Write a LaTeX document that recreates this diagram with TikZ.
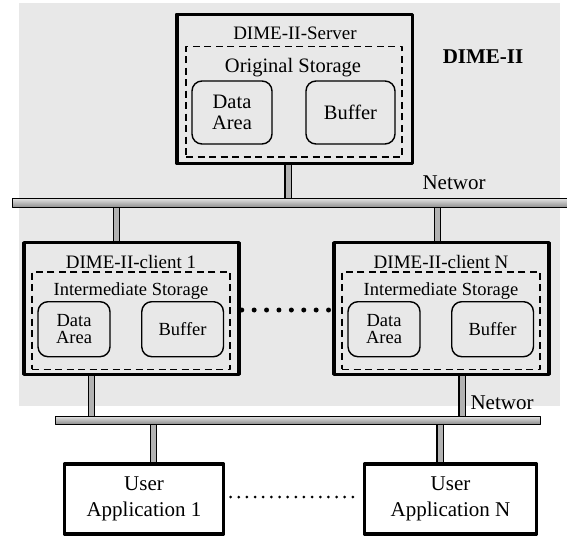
\documentclass[tikz,border=0pt]{standalone}
\usepackage{fontspec}
\setmainfont{Liberation Serif}
\usetikzlibrary{positioning}
\newcommand{\fsz}[1]{\fontsize{#1}{#1}\selectfont}
\begin{document}
\begin{tikzpicture}[x=1pt,y=-1pt,line join=round,
		hostbox/.style={draw,line width=3.5pt,fill=black!9,inner sep=0pt},
		appbox/.style={draw,line width=3.2pt,fill=white,inner sep=0pt,align=center,font=\fsz{21}},
		storebox/.style={draw,dashed,line width=1.6pt,dash pattern=on 7pt off 4.5pt,inner sep=0pt},
		areabox/.style={draw,line width=1.4pt,rounded corners=10pt,inner sep=0pt,align=center},
		netbar/.style={draw,line width=1.3pt,inner sep=0pt,top color=black!12,bottom color=black!45,shading angle=0},
		stub/.style={line width=1.2pt,double=black!30,double distance=5pt}]
	\useasboundingbox (0,0) rectangle (567,537);
	% shared region of the system
	\fill[black!9] (19,2.7) rectangle (560,406);
	% the two network lines
	\node[netbar,minimum width=556pt,minimum height=9pt] (netA) at (290.5,203) {};
	\node[netbar,minimum width=485pt,minimum height=8pt] (netB) at (298,420.3) {};
	\node[font=\fsz{21}] (netAlbl) at (454,183) {Networ};
	\node[font=\fsz{21}] (netBlbl) at (502,403) {Networ};
	\node[font=\bfseries\fsz{21}] (dime) at (483,57) {DIME-II};
	% server
	\node[hostbox,minimum width=235.5pt,minimum height=149pt] (srv) at (294.5,88.9) {};
	\node[font=\fsz{19}] (srvlbl) at (295,33) {DIME-II-Server};
	\node[storebox,minimum width=216pt,minimum height=110.6pt] (srvst) at (294,102) {};
	\node[font=\fsz{20.5}] (srvstlbl) at (293,68) {Original Storage};
	\node[areabox,minimum width=80pt,minimum height=63pt,font=\fsz{20.5}] (srvdata) at (232,112.5) {Data\\[1pt]Area};
	\node[areabox,minimum width=89pt,minimum height=63pt,font=\fsz{20.5}] (srvbuf) at (350.5,112.5) {Buffer};
	% clients
	\foreach \n/\dx in {1/0,N/310}{
		\begin{scope}[xshift=\dx pt]
			\node[hostbox,minimum width=215pt,minimum height=131.5pt] (c\n) at (131.5,308.5) {};
			\node[font=\fsz{19}] (c\n lbl) at (131,261.7) {DIME-II-client \n};
			\node[storebox,minimum width=198pt,minimum height=97.6pt] (c\n st) at (131.2,320.5) {};
			\node[font=\fsz{18.5}] (c\n stlbl) at (131,290.7) {Intermediate Storage};
			\node[areabox,minimum width=72pt,minimum height=55pt,font=\fsz{18.5}] (c\n data) at (74,329.2) {Data\\[-1pt]Area};
			\node[areabox,minimum width=81.7pt,minimum height=55pt,font=\fsz{18.5}] (c\n buf) at (182.6,329.2) {Buffer};
		\end{scope}
	}
	% user applications
	\node[appbox,minimum width=159pt,minimum height=70pt] (ua1) at (144,499) {User\\[5pt]Application 1};
	\node[appbox,minimum width=172pt,minimum height=70pt] (uaN) at (450.5,499) {User\\[5pt]Application N};
	% taps onto the networks
	\coordinate (tS) at (288,0);
	\coordinate (t1) at (116.5,0);
	\coordinate (tN) at (437.6,0);
	\coordinate (b1) at (91.5,0);
	\coordinate (bN) at (462,0);
	\coordinate (u1) at (153.7,0);
	\coordinate (uN) at (440,0);
	\draw[stub] (srv.south -| tS) -- (netA.north -| tS);
	\draw[stub] (netA.south -| t1) -- (c1.north -| t1);
	\draw[stub] (netA.south -| tN) -- (cN.north -| tN);
	\draw[stub] (c1.south -| b1) -- (netB.north -| b1);
	\draw[stub] (cN.south -| bN) -- (netB.north -| bN);
	\draw[stub] (netB.south -| u1) -- (ua1.north -| u1);
	\draw[stub] (netB.south -| uN) -- (uaN.north -| uN);
	% more clients and applications in between
	\draw[line width=5pt,line cap=round,dash pattern=on 0pt off 12.4pt,shorten <=1pt,shorten >=1pt] ([yshift=-1.5pt]c1.east) -- ([yshift=-1.5pt]cN.west);
	\draw[line width=3pt,line cap=round,dash pattern=on 0pt off 8.15pt,shorten <=5.5pt,shorten >=4pt] ([yshift=2pt]ua1.east) -- ([yshift=2pt]uaN.west);
\end{tikzpicture}
\end{document}
